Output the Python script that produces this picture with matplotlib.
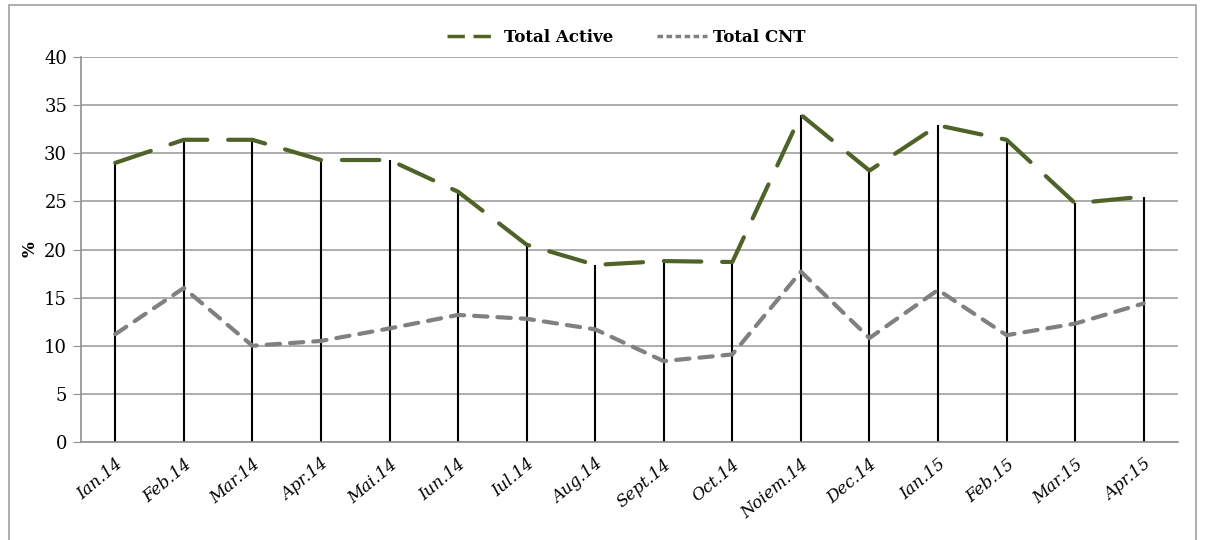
"""Total Active vs Total CNT, monthly percentages with drop lines."""

import matplotlib.pyplot as plt
from matplotlib.lines import Line2D
from matplotlib.patches import Rectangle

months = ["Ian.14", "Feb.14", "Mar.14", "Apr.14", "Mai.14", "Iun.14", "Iul.14", "Aug.14",
          "Sept.14", "Oct.14", "Noiem.14", "Dec.14", "Ian.15", "Feb.15", "Mar.15", "Apr.15"]
total_active = [29.0, 31.4, 31.4, 29.3, 29.3, 26.0, 20.5, 18.4,
                18.8, 18.7, 34.0, 28.2, 32.9, 31.4, 24.8, 25.5]
total_cnt = [11.2, 16.0, 10.0, 10.5, 11.8, 13.2, 12.8, 11.7,
             8.4, 9.1, 17.7, 10.8, 15.8, 11.1, 12.3, 14.4]
y_ticks = [0, 5, 10, 15, 20, 25, 30, 35, 40]

plt.rcParams["font.family"] = ["DejaVu Serif"]

GREEN = "#4f6228"
GREY = "#808080"

fig = plt.figure(figsize=(12.05, 5.4), dpi=100)
ax = fig.add_axes([0.0672, 0.1815, 0.9104, 0.7129])

x = list(range(len(months)))
ax.vlines(x, 0, total_active, color="black", lw=1.5, zorder=2)
ax.plot(x, total_active, color=GREEN, lw=3.0, dashes=(9.0, 5.0),
        dash_capstyle="round", zorder=4)
ax.plot(x, total_cnt, color=GREY, lw=3.0, dashes=(3.2, 2.4),
        dash_capstyle="round", zorder=3)

ax.set_xlim(-0.5, len(months) - 0.5)
ax.set_ylim(0, 40)
ax.set_yticks(y_ticks)
ax.yaxis.grid(True, color="#a0a0a0", lw=1.2)
ax.set_axisbelow(True)
ax.set_xticks(x)
ax.set_xticklabels(months, rotation=40, ha="right", rotation_mode="anchor",
                   fontstyle="italic", fontsize=12)
ax.tick_params(axis="x", length=0, pad=10)
ax.tick_params(axis="y", length=6, color="#909090", labelsize=13, pad=4)

for side in ["top", "right"]:
    ax.spines[side].set_visible(False)
for side in ["left", "bottom"]:
    ax.spines[side].set_color("#909090")
    ax.spines[side].set_linewidth(1.2)

ax.set_ylabel("%", fontweight="bold", fontsize=12, labelpad=4)

handles = [
    Line2D([], [], color=GREEN, lw=2.5, dashes=(5.0, 2.5)),
    Line2D([], [], color=GREY, lw=2.5, dashes=(1.6, 1.0)),
]
fig.legend(handles, ["Total Active", "Total CNT"], loc="center",
           bbox_to_anchor=(0.52, 0.93), ncol=2, frameon=False,
           prop={"weight": "bold", "size": 12}, handlelength=3.0, columnspacing=2.6,
           handletextpad=0.4)

fig.patches.append(Rectangle((0.0075, -0.01), 0.985, 1.0, transform=fig.transFigure,
                             fill=False, edgecolor="#a0a0a0", lw=1.2))

fig.savefig("out.png", dpi=100)
